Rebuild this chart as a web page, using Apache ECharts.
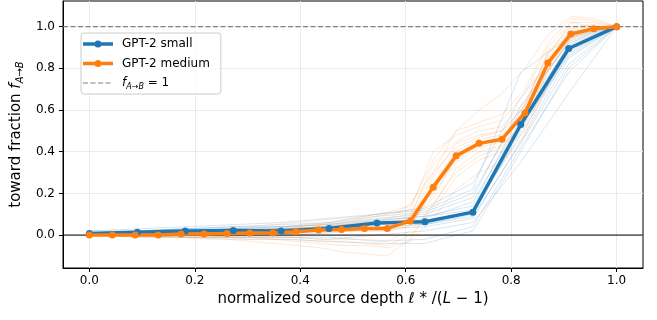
<!DOCTYPE html>
<html>
<head>
<meta charset="utf-8">
<script src="https://cdn.jsdelivr.net/npm/echarts@6/dist/echarts.min.js"></script>
<style>
  html, body { margin: 0; padding: 0; background: #fff; }
  #chart { width: 657px; height: 320px; }
</style>
</head>
<body>
<div id="chart"></div>
<script>
// mean toward fraction per source layer (GPT-2 small: 12 layers, medium: 24 layers)
const smallMean = [0.008, 0.013, 0.02, 0.022, 0.02, 0.032, 0.058, 0.064, 0.11, 0.53, 0.895, 1.0];
const mediumMean = [0.0, 0.0, 0.0, 0.0, 0.005, 0.005, 0.008, 0.01, 0.01, 0.016, 0.024, 0.027,
  0.032, 0.032, 0.068, 0.23, 0.38, 0.44, 0.46, 0.586, 0.825, 0.965, 0.99, 1.0];

// individual pairs (faint lines)
const smallPairs = [
  [0.01, 0.02, 0.03, 0.03, 0.04, 0.05, 0.08, 0.10, 0.18, 0.62, 0.92, 1],
  [0.00, 0.00, 0.01, 0.01, 0.00, 0.01, 0.03, 0.04, 0.08, 0.45, 0.85, 1],
  [0.01, 0.01, 0.02, 0.03, 0.03, 0.04, 0.07, 0.09, 0.14, 0.58, 0.90, 1],
  [0.02, 0.03, 0.04, 0.05, 0.06, 0.08, 0.10, 0.12, 0.22, 0.78, 0.95, 1],
  [0.00, -0.01, -0.01, -0.02, -0.02, -0.03, -0.04, -0.04, 0.02, 0.40, 0.80, 1],
  [0.01, 0.01, 0.02, 0.02, 0.03, 0.04, 0.06, 0.05, 0.10, 0.50, 0.88, 1],
  [0.00, 0.01, 0.01, 0.02, 0.02, 0.03, 0.05, 0.08, 0.16, 0.55, 0.91, 1],
  [0.01, 0.02, 0.03, 0.04, 0.05, 0.06, 0.10, 0.13, 0.25, 0.66, 0.94, 1],
  [0.00, 0.00, -0.01, -0.01, -0.01, -0.02, 0.00, 0.02, 0.06, 0.35, 0.68, 1],
  [0.01, 0.02, 0.02, 0.03, 0.04, 0.05, 0.07, 0.09, 0.12, 0.48, 0.87, 1],
  [0.02, 0.02, 0.03, 0.04, 0.04, 0.06, 0.09, 0.11, 0.20, 0.60, 0.93, 1],
  [0.00, 0.01, 0.01, 0.01, 0.01, 0.02, 0.04, 0.05, 0.09, 0.44, 0.82, 1],
  [0.01, 0.01, 0.02, 0.02, 0.03, 0.04, 0.06, 0.07, 0.11, 0.52, 0.86, 1],
  [0.00, 0.00, 0.00, -0.01, -0.01, -0.01, -0.03, -0.02, 0.04, 0.42, 0.78, 1]
];
const mediumPairs = [
  [0, 0, 0, 0, 0.01, 0.01, 0.01, 0.02, 0.02, 0.03, 0.04, 0.05, 0.06, 0.07, 0.15, 0.30, 0.50, 0.60, 0.68, 0.80, 0.96, 1.05, 1.04, 1],
  [0, 0, -0.01, -0.01, -0.01, -0.02, -0.02, -0.03, -0.04, -0.05, -0.06, -0.08, -0.09, -0.10, -0.02, 0.15, 0.30, 0.38, 0.42, 0.55, 0.78, 0.95, 0.98, 1],
  [0, 0, 0, 0.01, 0.01, 0.01, 0.02, 0.02, 0.03, 0.04, 0.05, 0.06, 0.08, 0.10, 0.12, 0.40, 0.48, 0.52, 0.55, 0.68, 0.90, 1.02, 1.00, 1],
  [0, 0, 0, 0, 0, 0, 0, 0.01, 0.01, 0.01, 0.02, 0.02, 0.02, 0.02, 0.05, 0.20, 0.35, 0.42, 0.45, 0.58, 0.82, 0.97, 0.99, 1],
  [0, 0, 0, -0.01, -0.01, -0.01, -0.01, -0.02, -0.02, -0.02, -0.03, -0.03, -0.04, -0.05, 0.00, 0.12, 0.28, 0.36, 0.40, 0.50, 0.75, 0.94, 0.99, 1],
  [0, 0, 0.01, 0.01, 0.01, 0.02, 0.02, 0.03, 0.03, 0.04, 0.05, 0.06, 0.07, 0.08, 0.10, 0.30, 0.42, 0.47, 0.50, 0.62, 0.88, 1.00, 1.01, 1],
  [0, 0, 0, 0, 0, 0.01, 0.01, 0.01, 0.01, 0.02, 0.02, 0.03, 0.03, 0.04, 0.08, 0.25, 0.40, 0.46, 0.48, 0.60, 0.85, 0.98, 0.99, 1],
  [0, 0, 0, 0, -0.01, -0.01, -0.01, -0.01, -0.02, -0.03, -0.04, -0.05, -0.05, -0.06, -0.03, 0.08, 0.22, 0.30, 0.35, 0.48, 0.72, 0.92, 0.98, 1],
  [0, 0, 0, 0.01, 0.01, 0.02, 0.02, 0.02, 0.03, 0.03, 0.04, 0.05, 0.05, 0.06, 0.09, 0.34, 0.45, 0.50, 0.52, 0.64, 0.86, 1.02, 1.02, 1],
  [0, 0, 0, 0, 0, 0, 0.01, 0.01, 0.01, 0.02, 0.02, 0.02, 0.03, 0.03, 0.06, 0.18, 0.38, 0.44, 0.47, 0.57, 0.80, 0.96, 0.99, 1],
  [0, 0, 0.01, 0.01, 0.02, 0.02, 0.03, 0.04, 0.05, 0.06, 0.07, 0.08, 0.09, 0.11, 0.14, 0.36, 0.50, 0.54, 0.58, 0.70, 0.92, 1.04, 1.03, 1],
  [0, 0, 0, 0, 0, -0.01, -0.01, -0.01, -0.01, -0.01, -0.02, -0.02, -0.02, -0.03, 0.02, 0.14, 0.32, 0.40, 0.43, 0.54, 0.79, 0.95, 0.98, 1],
  [0, 0, 0, 0, 0, 0, 0, 0, 0.01, 0.01, 0.01, 0.02, 0.02, 0.02, 0.04, 0.22, 0.36, 0.43, 0.46, 0.56, 0.84, 0.97, 1.00, 1],
  [0, 0, 0, 0.01, 0.01, 0.01, 0.02, 0.02, 0.02, 0.03, 0.04, 0.04, 0.05, 0.05, 0.08, 0.28, 0.44, 0.48, 0.50, 0.62, 0.87, 0.99, 1.00, 1]
];

const xTicks = [0, 0.2, 0.4, 0.6, 0.8, 1.0];
const yTicks = [0, 0.2, 0.4, 0.6, 0.8, 1.0];

const BLUE = '#1f77b4';
const ORANGE = '#ff7f0e';
const GRAY = '#808080';
const FONT = '"DejaVu Sans", sans-serif';

// legend icons drawn in a 30x14 box (thick line + dot, and a dashed line)
const ICON_LINE = 'path://M0,0M30,14M0,5.25H30V8.75H0Z M18.5,7A3.5,3.5 0 1 1 11.5,7A3.5,3.5 0 1 1 18.5,7Z';
const ICON_DASH = 'path://M0,0M30,14M0,6.4H5V7.6H0Z M7.5,6.4H12.5V7.6H7.5Z M15,6.4H20V7.6H15Z M22.5,6.4H27.5V7.6H22.5Z';

// x = l / (L - 1)
function toPoints(vals) {
  return vals.map((v, i) => [i / (vals.length - 1), v]);
}

const series = [];
smallPairs.forEach((p) => {
  series.push({
    type: 'line', data: toPoints(p), symbol: 'none', silent: true,
    lineStyle: { color: BLUE, width: 1, opacity: 0.18 }
  });
});
mediumPairs.forEach((p) => {
  series.push({
    type: 'line', data: toPoints(p), symbol: 'none', silent: true,
    lineStyle: { color: ORANGE, width: 1, opacity: 0.18 }
  });
});
// y = 0 reference
series.push({
  type: 'line', data: [[-0.05, 0], [1.05, 0]], symbol: 'none', silent: true,
  lineStyle: { color: '#000', width: 1 }
});
series.push({
  name: 'ref', type: 'line', data: [[-0.05, 1], [1.05, 1]], symbol: 'none', silent: true,
  itemStyle: { color: GRAY },
  lineStyle: { color: GRAY, width: 1.2, type: [5, 2.5] }
});
series.push({
  name: 'GPT-2 small', type: 'line', data: toPoints(smallMean),
  symbol: 'circle', symbolSize: 7, showAllSymbol: true,
  itemStyle: { color: BLUE }, lineStyle: { color: BLUE, width: 3.5 }
});
series.push({
  name: 'GPT-2 medium', type: 'line', data: toPoints(mediumMean),
  symbol: 'circle', symbolSize: 7, showAllSymbol: true,
  itemStyle: { color: ORANGE }, lineStyle: { color: ORANGE, width: 3.5 }
});

const myChart = echarts.init(document.getElementById('chart'));
const option = {
  backgroundColor: '#fff',
  animation: false,
  textStyle: { fontFamily: FONT },
  grid: {
    left: 63, right: 14, top: 1, bottom: 52,
    show: true, borderColor: '#000', borderWidth: 1, backgroundColor: 'transparent'
  },
  legend: {
    data: [
      { name: 'GPT-2 small', icon: ICON_LINE },
      { name: 'GPT-2 medium', icon: ICON_LINE },
      { name: 'ref', icon: ICON_DASH }
    ],
    orient: 'vertical', left: 81, top: 33,
    itemWidth: 30, itemHeight: 14, itemGap: 5.5,
    padding: [4, 11, 3, 2],
    backgroundColor: 'rgba(255,255,255,0.8)', borderColor: '#cccccc', borderWidth: 1, borderRadius: 3,
    formatter: (name) => name === 'ref'
      ? '{sp| }{it|f}{sub|A→B}{n| = 1}'
      : '{sp| }{n|' + name + '}',
    textStyle: {
      fontFamily: FONT, fontSize: 12, color: '#000',
      rich: {
        sp: { width: 4 },
        n: { fontSize: 12, color: '#000', fontFamily: FONT, lineHeight: 16 },
        it: { fontSize: 12, fontStyle: 'italic', color: '#000', fontFamily: FONT, lineHeight: 16 },
        sub: { fontSize: 8, fontStyle: 'italic', color: '#000', fontFamily: FONT, lineHeight: 8, verticalAlign: 'bottom' }
      }
    }
  },
  xAxis: {
    type: 'value', min: -0.05, max: 1.05,
    name: '{n|normalized source depth }{it|ℓ}{n| * /(}{it|L}{n| − 1)}',
    nameLocation: 'middle', nameGap: 24,
    nameTextStyle: {
      rich: {
        n: { fontSize: 15, color: '#000', fontFamily: FONT },
        it: { fontSize: 15, fontStyle: 'italic', color: '#000', fontFamily: FONT }
      }
    },
    axisLine: { show: true, onZero: false, lineStyle: { color: '#000', width: 1 } },
    axisTick: { show: true, length: 4, customValues: xTicks, lineStyle: { color: '#000' } },
    axisLabel: {
      customValues: xTicks, margin: 7, fontSize: 12, color: '#000', fontFamily: FONT,
      formatter: (v) => v.toFixed(1)
    },
    splitLine: { show: true, lineStyle: { color: '#ebebeb', width: 1 } }
  },
  yAxis: {
    type: 'value', min: -0.158, max: 1.123,
    name: '{n|toward fraction }{it|f}{sub|A→B}',
    nameLocation: 'middle', nameGap: 37,
    nameTextStyle: {
      rich: {
        n: { fontSize: 15, color: '#000', fontFamily: FONT, lineHeight: 18 },
        it: { fontSize: 15, fontStyle: 'italic', color: '#000', fontFamily: FONT, lineHeight: 18 },
        sub: { fontSize: 10, fontStyle: 'italic', color: '#000', fontFamily: FONT, lineHeight: 9, verticalAlign: 'bottom' }
      }
    },
    axisLine: { show: true, onZero: false, lineStyle: { color: '#000', width: 1 } },
    axisTick: { show: true, length: 4, customValues: yTicks, lineStyle: { color: '#000' } },
    axisLabel: {
      customValues: yTicks, margin: 8, fontSize: 12, color: '#000', fontFamily: FONT,
      formatter: (v) => v.toFixed(1)
    },
    splitLine: { show: true, lineStyle: { color: '#ebebeb', width: 1 } }
  },
  series: series
};
myChart.setOption(option);
</script>
</body>
</html>
